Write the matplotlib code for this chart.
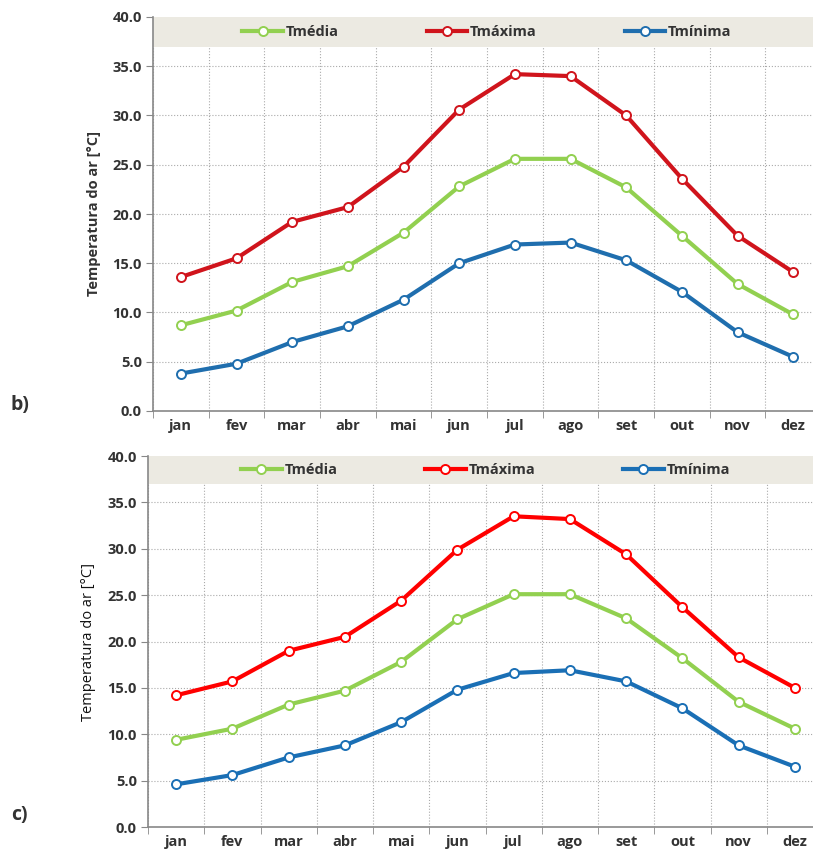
import matplotlib.pyplot as plt

plt.rcParams['font.family'] = ['Open Sans', 'DejaVu Sans']

months = ["jan", "fev", "mar", "abr", "mai", "jun", "jul", "ago", "set", "out", "nov", "dez"]

# panel b)
tmed_b = [8.7, 10.2, 13.1, 14.7, 18.1, 22.8, 25.6, 25.6, 22.7, 17.8, 12.9, 9.8]
tmax_b = [13.6, 15.5, 19.2, 20.7, 24.8, 30.6, 34.2, 34.0, 30.0, 23.6, 17.8, 14.1]
tmin_b = [3.8, 4.8, 7.0, 8.6, 11.3, 15.0, 16.9, 17.1, 15.3, 12.1, 8.0, 5.5]

# panel c)
tmed_c = [9.4, 10.6, 13.2, 14.7, 17.8, 22.4, 25.1, 25.1, 22.5, 18.2, 13.5, 10.6]
tmax_c = [14.2, 15.7, 19.0, 20.5, 24.4, 29.9, 33.5, 33.2, 29.4, 23.7, 18.3, 15.0]
tmin_c = [4.6, 5.6, 7.5, 8.8, 11.3, 14.8, 16.6, 16.9, 15.7, 12.8, 8.8, 6.5]

TXT = "#333333"


def draw_panel(ax, tmed, tmax, tmin, red, blue, ylabel_weight, ylabel_color):
    x = range(len(months))
    ax.axhspan(37, 40, color="#ECEAE2", zorder=1, lw=0)
    series = [(tmed, "#92D050", "Tmédia"), (tmax, red, "Tmáxima"), (tmin, blue, "Tmínima")]
    for vals, col, name in series:
        ax.plot(x, vals, color=col, lw=3.0, marker="o", ms=6.5, mfc="white",
                mec=col, mew=1.4, label=name, zorder=3)
    ax.set_xlim(-0.5, 11.5)
    ax.set_ylim(0, 40)
    ax.set_yticks([0, 5, 10, 15, 20, 25, 30, 35, 40])
    ax.set_yticklabels(["%.1f" % v for v in ax.get_yticks()], fontweight="bold", color=TXT, fontsize=10.5)
    ax.set_xticks(list(x))
    ax.set_xticklabels(months, fontweight="bold", color=TXT, fontsize=10.5)
    ax.set_xticks([i - 0.5 for i in range(13)], minor=True)
    ax.tick_params(axis="x", which="major", length=0, pad=6)
    ax.tick_params(axis="x", which="minor", length=5, color="#888888")
    ax.tick_params(axis="y", length=5, color="#888888", pad=3)
    ax.grid(axis="x", which="minor", ls=":", color="#AAAAAA", lw=0.8, zorder=0)
    ax.grid(axis="y", which="major", ls=":", color="#AAAAAA", lw=0.8, zorder=0)
    ax.set_axisbelow(True)
    for s in ["top", "right"]:
        ax.spines[s].set_visible(False)
    for s in ["left", "bottom"]:
        ax.spines[s].set_color("#888888")
        ax.spines[s].set_linewidth(1.2)
    ax.set_ylabel("Temperatura do ar [°C]", fontweight=ylabel_weight, color=ylabel_color,
                  fontsize=10.5, labelpad=8)
    leg = ax.legend(loc="center", bbox_to_anchor=(0.5, 38.5 / 40), ncol=3, frameon=False,
                    columnspacing=6.0, handlelength=2.8, handletextpad=0.2,
                    prop={"weight": "bold", "size": 10.5})
    for t in leg.get_texts():
        t.set_color(TXT)
    leg.set_zorder(5)


fig = plt.figure(figsize=(8.13, 8.55), dpi=100)
ax1 = fig.add_axes([153 / 813, 1 - 411 / 855, (821 - 153) / 813, 394 / 855])
ax2 = fig.add_axes([148 / 813, 1 - 827 / 855, (823 - 148) / 813, 371 / 855])

draw_panel(ax1, tmed_b, tmax_b, tmin_b, "#D0141C", "#1F6EAE", "bold", TXT)
draw_panel(ax2, tmed_c, tmax_c, tmin_c, "#FF0000", "#1A6FB5", "normal", "#111111")

fig.text(10 / 813, 1 - 405 / 855, "b)", fontsize=14, fontweight="bold", color=TXT, va="center")
fig.text(11 / 813, 1 - 815 / 855, "c)", fontsize=14, fontweight="bold", color=TXT, va="center")

fig.savefig("out.png", dpi=100)
